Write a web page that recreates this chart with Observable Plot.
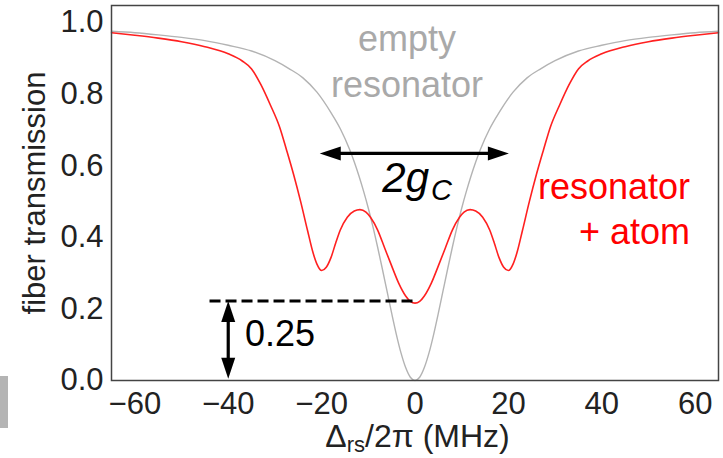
<!DOCTYPE html>
<html><head><meta charset="utf-8">
<script src="https://cdn.jsdelivr.net/npm/d3@7"></script>
<script src="https://cdn.jsdelivr.net/npm/@observablehq/plot@0.6"></script>
<style>
body{margin:0;background:#fff;}
#wrap{position:relative;width:723px;height:458px;overflow:hidden;}
#artifact{position:absolute;left:0;top:376px;width:8px;height:52px;background:#b4b4b4;}
</style></head><body>
<div id="wrap"><div id="artifact"></div></div>
<script>
// empty resonator (gray)
const grayX = [-65,-60,-55,-50,-45,-40,-35,-30,-27,-24,-21,-18,-16,-14,-13,-12,-11,-10,-9,-8,-7,-6,-5,-4,-3,-2,-1,0,
               1,2,3,4,5,6,7,8,9,10,11,12,13,14,16,18,21,24,27,30,35,40,45,50,55,60,65];
const grayY = [0.975,0.971,0.965,0.958,0.949,0.936,0.920,0.893,0.871,0.845,0.805,0.748,0.703,0.645,0.610,0.571,0.528,0.481,0.429,0.372,0.312,0.250,0.188,0.129,0.077,0.036,0.009,0.000,
               0.009,0.036,0.077,0.129,0.188,0.250,0.312,0.372,0.429,0.481,0.528,0.571,0.610,0.645,0.703,0.748,0.805,0.845,0.871,0.893,0.920,0.936,0.949,0.958,0.965,0.971,0.975];
// resonator + atom (red)
const redX = [-65,-60,-55,-50,-45,-40,-37,-35,-33,-31,-29,-27.5,-26,-24.5,-23,-21.8,-21,-20,-19,-18,-17,-16,-14.5,-13,-11.8,-10.5,-9.5,-8,-6.5,-5,-3.5,-2,-1,0,
              1,2,3.5,5,6.5,8,9.5,10.5,11.8,13,14.5,16,17,18,19,20,21,21.8,23,24.5,26,27.5,29,31,33,35,37,40,45,50,55,60,65];
const redY = [0.971,0.964,0.956,0.946,0.932,0.912,0.892,0.870,0.826,0.770,0.708,0.643,0.575,0.500,0.418,0.355,0.325,0.307,0.316,0.343,0.383,0.420,0.456,0.473,0.477,0.470,0.455,0.420,0.370,0.320,0.272,0.236,0.221,0.216,
              0.221,0.236,0.272,0.320,0.370,0.420,0.455,0.470,0.477,0.473,0.456,0.420,0.383,0.343,0.316,0.307,0.325,0.355,0.418,0.500,0.575,0.643,0.708,0.770,0.826,0.870,0.892,0.912,0.932,0.946,0.956,0.964,0.971];
const xTicks = [-60,-40,-20,0,20,40,60];
const yTicks = [0,0.2,0.4,0.6,0.8,1.0];

// annotations (data coordinates)
const dashLine = [{x1:-43.9, x2:0, y:0.222}];
const hArrow = {x1:-20.4, x2:20.1, y:0.634};
const vArrow = {x:-40, y1:0.222, y2:0.005};
const grayLabels = [{t:"empty", x:-1.7, y:0.9525}, {t:"resonator", x:-1.7, y:0.824}];
const redLabels = [{t:"resonator", x:58.9, y:0.539}, {t:"+ atom", x:58.9, y:0.413}];
const depthLabel = [{t:"0.25", x:-36.4, y:0.1285}];

const gray = grayX.map((x,i)=>({x, y:grayY[i]}));
const red = redX.map((x,i)=>({x, y:redY[i]}));
const heads = [
  {x:hArrow.x2, y:hArrow.y, r:90},
  {x:hArrow.x1, y:hArrow.y, r:-90},
  {x:vArrow.x, y:vArrow.y1, r:0},
  {x:vArrow.x, y:vArrow.y2, r:180}
];
const headShape = {draw(ctx, l){ ctx.moveTo(0,-l); ctx.lineTo(-7,0); ctx.lineTo(7,0); ctx.closePath(); }};
const font = "'Liberation Sans', Arial, Helvetica, sans-serif";

function xLabel(index, scales, values, dims){
  const cx = (dims.marginLeft + dims.width - dims.marginRight)/2 + 3;
  const t = d3.create("svg:text").attr("x", cx).attr("y", dims.height - 11)
    .attr("text-anchor","middle").attr("font-size", 32).attr("fill","#222").attr("font-family", font);
  t.append("tspan").text("Δ");
  t.append("tspan").attr("font-size", 22).attr("dy", 5).text("rs");
  t.append("tspan").attr("dy", -5).text("/2π (MHz)");
  return t.node();
}
function gLabel(index, scales){
  const t = d3.create("svg:text").attr("x", scales.x(-6.9)).attr("y", scales.y(0.525))
    .attr("text-anchor","start")
    .attr("font-family", font).attr("font-style","italic").attr("fill","#000").attr("font-size", 42);
  t.append("tspan").text("2g");
  t.append("tspan").attr("font-size", 29).attr("dy", 8).attr("dx", 2).text("C");
  return t.node();
}

const plot = Plot.plot({
  width:723, height:458,
  marginLeft:111, marginRight:5, marginTop:5, marginBottom:78,
  style:{fontFamily:font, fontSize:"31px", color:"#222", background:"white", overflow:"visible"},
  x:{domain:[-65,65], ticks:xTicks, tickSize:0, tickPadding:11, label:null},
  y:{domain:[0,1.047], ticks:yTicks, tickSize:0, tickPadding:8, label:null, tickFormat:d=>d.toFixed(1)},
  marks:[
    Plot.line(gray, {x:"x", y:"y", stroke:"#b3b3b3", strokeWidth:1.4, curve:"monotone-x"}),
    Plot.line(red, {x:"x", y:"y", stroke:"#ff2020", strokeWidth:1.6, curve:"monotone-x"}),
    Plot.ruleY(dashLine, {x1:"x1", x2:"x2", y:"y", stroke:"#000", strokeWidth:3, strokeDasharray:"11,5", ariaLabel:"annot"}),
    Plot.ruleY([hArrow], {x1:d=>d.x1+2, x2:d=>d.x2-2, y:"y", stroke:"#000", strokeWidth:3.2, ariaLabel:"annot"}),
    Plot.ruleX([vArrow], {x:"x", y1:d=>d.y1-0.02, y2:d=>d.y2+0.02, stroke:"#000", strokeWidth:3.2, ariaLabel:"annot"}),
    Plot.vector(heads, {x:"x", y:"y", rotate:"r", length:21, anchor:"end", shape:headShape, fill:"#000", stroke:"none", ariaLabel:"annot"}),
    Plot.text(grayLabels, {x:"x", y:"y", text:"t", fill:"#a9a9a9", textAnchor:"middle", fontSize:36}),
    Plot.text(redLabels, {x:"x", y:"y", text:"t", fill:"#ff0000", textAnchor:"end", fontSize:36}),
    Plot.text(depthLabel, {x:"x", y:"y", text:"t", fill:"#000", textAnchor:"start", fontSize:36}),
    Plot.text(["fiber transmission"], {text:d=>d, frameAnchor:"left", textAnchor:"middle", dx:-76, rotate:-90, fontSize:31, fill:"#222"}),
    Plot.frame({stroke:"#444", strokeWidth:1.5}),
    xLabel,
    gLabel
  ]
});
d3.select(plot).selectAll('g[aria-label="annot"]').style("filter","drop-shadow(2px 3px 2px rgba(0,0,0,0.35))");
document.getElementById("wrap").appendChild(plot);
</script>
</body></html>
